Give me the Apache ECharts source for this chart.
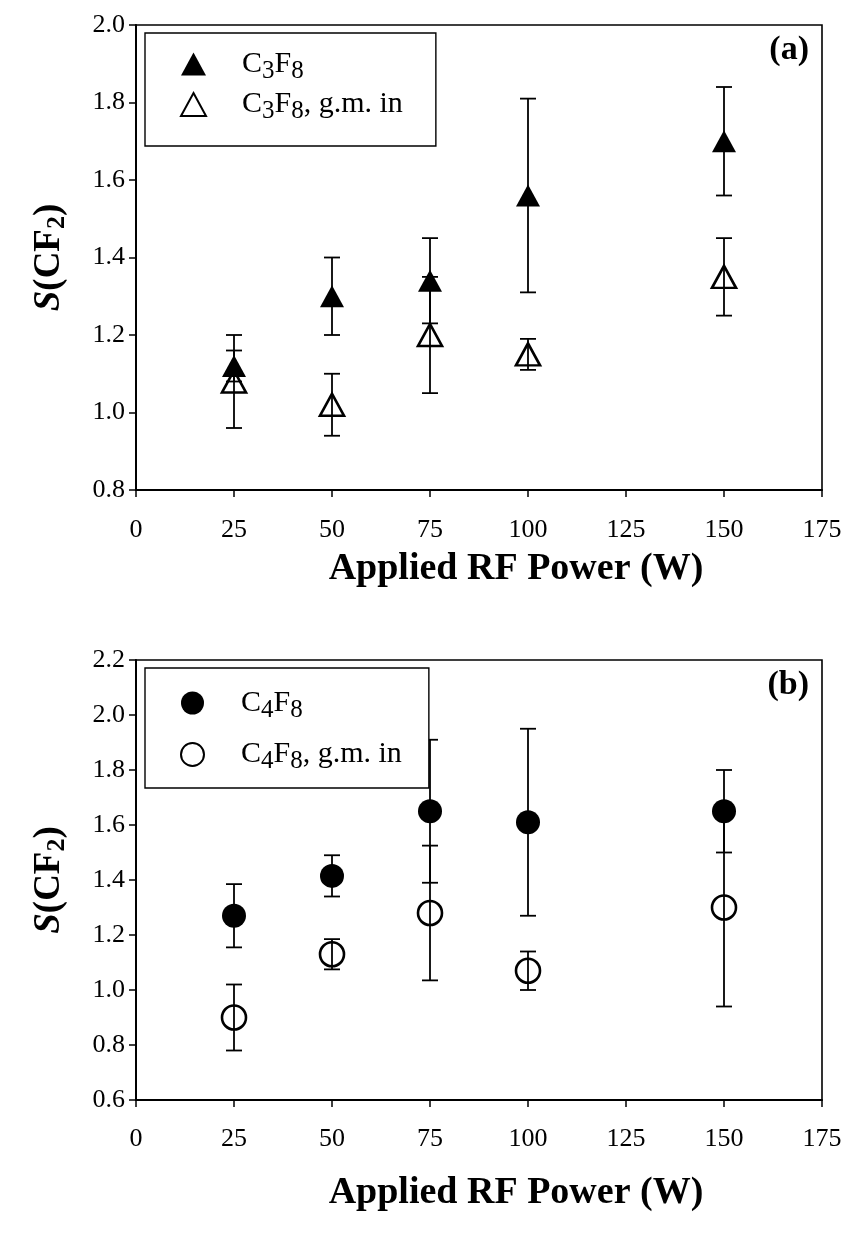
<!DOCTYPE html>
<html>
<head>
<meta charset="utf-8">
<script src="https://cdn.jsdelivr.net/npm/echarts@6/dist/echarts.min.js"></script>
<style>html,body{margin:0;padding:0;background:#fff}#c{width:849px;height:1244px}</style>
</head>
<body>
<div id="c"></div>
<script>
// ---- data ----
const powers = [25, 50, 75, 100, 150];
const xTicks = [0, 25, 50, 75, 100, 125, 150, 175];
const c3f8 = [1.12, 1.30, 1.34, 1.56, 1.70];
const c3f8Err = [0.04, 0.10, 0.11, 0.25, 0.14];
const c3f8gm = [1.08, 1.02, 1.20, 1.15, 1.35];
const c3f8gmErr = [0.12, 0.08, 0.15, 0.04, 0.10];
const c4f8 = [1.27, 1.415, 1.65, 1.61, 1.65];
const c4f8Err = [0.115, 0.075, 0.26, 0.34, 0.15];
const c4f8gm = [0.90, 1.13, 1.28, 1.07, 1.30];
const c4f8gmErr = [0.12, 0.055, 0.245, 0.07, 0.36];
const yTicksA = [0.8, 1.0, 1.2, 1.4, 1.6, 1.8, 2.0];
const yTicksB = [0.6, 0.8, 1.0, 1.2, 1.4, 1.6, 1.8, 2.0, 2.2];
const names = {
  a1: 'C3F8', a2: 'C3F8, g.m. in', b1: 'C4F8', b2: 'C4F8, g.m. in'
};
const labelsRich = {
  'C3F8': 'C{sub|3}F{sub|8}',
  'C3F8, g.m. in': 'C{sub|3}F{sub|8}, g.m. in',
  'C4F8': 'C{sub|4}F{sub|8}',
  'C4F8, g.m. in': 'C{sub|4}F{sub|8}, g.m. in'
};

const FONT = '"Liberation Serif", "DejaVu Serif", serif';

function pts(vals) { return powers.map((p, i) => [p, vals[i]]); }
function errs(vals, e) { return powers.map((p, i) => [p, vals[i] - e[i], vals[i] + e[i]]); }

function errSeries(vals, e, idx) {
  return {
    type: 'custom', xAxisIndex: idx, yAxisIndex: idx, z: 2, silent: true,
    data: errs(vals, e),
    encode: { x: 0, y: [1, 2] },
    renderItem: function (params, api) {
      const lo = api.coord([api.value(0), api.value(1)]);
      const hi = api.coord([api.value(0), api.value(2)]);
      const hw = 8;
      const st = { stroke: '#000', lineWidth: 1.8 };
      return {
        type: 'group',
        children: [
          { type: 'line', shape: { x1: lo[0], y1: lo[1], x2: hi[0], y2: hi[1] }, style: st },
          { type: 'line', shape: { x1: lo[0] - hw, y1: lo[1], x2: lo[0] + hw, y2: lo[1] }, style: st },
          { type: 'line', shape: { x1: hi[0] - hw, y1: hi[1], x2: hi[0] + hw, y2: hi[1] }, style: st }
        ]
      };
    }
  };
}

function xAxis(idx) {
  return {
    type: 'value', gridIndex: idx, min: 0, max: 175, interval: 25,
    name: 'Applied RF Power (W)', nameLocation: 'middle', nameGap: idx === 0 ? 60 : 74,
    nameTextStyle: { fontFamily: FONT, fontWeight: 'bold', fontSize: 38, color: '#000', padding: [0, 0, 0, 74] },
    axisLine: { show: true, onZero: false, lineStyle: { color: '#000', width: 2 } },
    axisTick: { show: true, inside: false, length: 7, lineStyle: { color: '#000', width: 1.5 } },
    axisLabel: { fontFamily: FONT, fontSize: 26, color: '#000', margin: idx === 0 ? 27 : 26 },
    splitLine: { show: false }
  };
}
function yAxis(idx, min, max) {
  return {
    type: 'value', gridIndex: idx, min: min, max: max, interval: 0.2,
    name: '{it|S}(CF{sub|2})', nameLocation: 'middle', nameRotate: 90, nameGap: 66,
    nameTextStyle: {
      fontFamily: FONT, fontWeight: 'bold', fontSize: 37, color: '#000',
      rich: {
        it: { fontFamily: FONT, fontWeight: 'bold', fontStyle: 'italic', fontSize: 37, color: '#000' },
        sub: { fontFamily: FONT, fontWeight: 'bold', fontSize: 26, color: '#000', padding: [16, 0, 0, 0] }
      }
    },
    axisLine: { show: true, onZero: false, lineStyle: { color: '#000', width: 2 } },
    axisTick: { show: true, inside: false, length: 7, lineStyle: { color: '#000', width: 1.5 } },
    axisLabel: { fontFamily: FONT, fontSize: 26, color: '#000', margin: 11,
      formatter: v => v.toFixed(1) },
    splitLine: { show: false }
  };
}

const filled = { color: '#000', borderColor: '#000', borderWidth: 0, opacity: 1 };
const open = { color: 'rgba(0,0,0,0)', borderColor: '#000', borderWidth: 2.6, opacity: 1 };

function legend(top, data, gap, pad) {
  return {
    show: true, orient: 'vertical', left: 145, top: top,
    data: data,
    itemWidth: 25, itemHeight: 23, itemGap: gap,
    padding: pad,
    borderColor: '#000', borderWidth: 1.4, borderRadius: 0,
    backgroundColor: '#fff',
    selectedMode: false,
    formatter: n => labelsRich[n],
    textStyle: {
      fontFamily: FONT, fontSize: 30, color: '#000', lineHeight: 30, padding: [0, 0, 0, 31],
      rich: { sub: { fontFamily: FONT, fontSize: 25, color: '#000', padding: [14, 0, 0, 0] } }
    }
  };
}

const chart = echarts.init(document.getElementById('c'), null, { renderer: 'canvas' });
chart.setOption({
  animation: false,
  backgroundColor: '#fff',
  grid: [
    { left: 136, top: 25, width: 686, height: 465, show: true, borderColor: '#000', borderWidth: 1.6, backgroundColor: 'transparent' },
    { left: 136, top: 660, width: 686, height: 440, show: true, borderColor: '#000', borderWidth: 1.6, backgroundColor: 'transparent' }
  ],
  xAxis: [xAxis(0), xAxis(1)],
  yAxis: [yAxis(0, 0.8, 2.0), yAxis(1, 0.6, 2.2)],
  legend: [
    legend(33, [names.a1, names.a2], 6, [16, 33, 22, 35]),
    legend(668, [names.b1, names.b2], 17, [20, 27, 14, 35])
  ],
  graphic: [
    { type: 'text', right: 40, top: 33, style: { text: '(a)', font: 'bold 34px ' + FONT, fill: '#000' } },
    { type: 'text', right: 40, top: 668, style: { text: '(b)', font: 'bold 34px ' + FONT, fill: '#000' } }
  ],
  series: [
    errSeries(c3f8gm, c3f8gmErr, 0),
    errSeries(c3f8, c3f8Err, 0),
    { type: 'scatter', name: names.a2, xAxisIndex: 0, yAxisIndex: 0, z: 3, symbol: 'triangle', symbolSize: [24, 22], itemStyle: open, data: pts(c3f8gm) },
    { type: 'scatter', name: names.a1, xAxisIndex: 0, yAxisIndex: 0, z: 4, symbol: 'triangle', symbolSize: [24, 22], itemStyle: filled, data: pts(c3f8) },
    errSeries(c4f8gm, c4f8gmErr, 1),
    errSeries(c4f8, c4f8Err, 1),
    { type: 'scatter', name: names.b2, xAxisIndex: 1, yAxisIndex: 1, z: 3, symbol: 'circle', symbolSize: 24, itemStyle: open, data: pts(c4f8gm) },
    { type: 'scatter', name: names.b1, xAxisIndex: 1, yAxisIndex: 1, z: 4, symbol: 'circle', symbolSize: 24, itemStyle: filled, data: pts(c4f8) }
  ]
});
</script>
</body>
</html>
